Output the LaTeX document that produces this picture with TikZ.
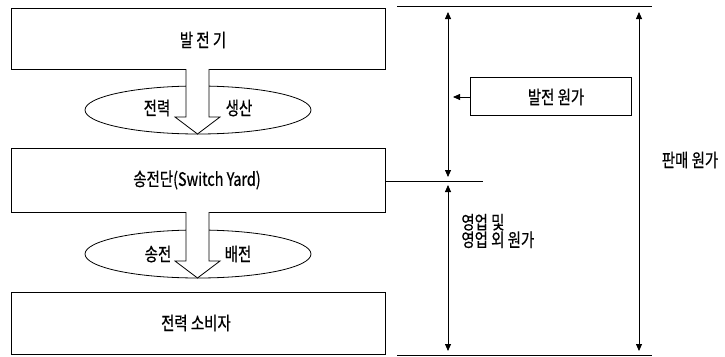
\documentclass[tikz,border=0pt]{standalone}
\usepackage{fontspec}
\setmainfont{Noto Sans CJK KR}[FakeStretch=0.78,FakeBold=0.6]
\usetikzlibrary{shapes.geometric,arrows.meta}
\begin{document}
\begin{tikzpicture}[x=1pt,y=-1pt,
  line width=0.8pt,
  box/.style={draw, rectangle, inner sep=0pt},
  oval/.style={draw, ellipse, minimum width=226pt, minimum height=48pt, inner sep=0pt},
  lbl/.style={font=\fontsize{18.5}{21}\selectfont, inner sep=0pt},
  dim/.style={{Triangle[length=7pt,width=6pt]}-{Triangle[length=7pt,width=6pt]}},
  ptr/.style={-{Triangle[length=7pt,width=6pt]}},
  blockarrow/.style={fill=white}
]
\useasboundingbox (0,0) rectangle (725,356);

% left column boxes
\node[box, minimum width=374pt, minimum height=61pt] (gen) at (198,38.5) {};
\node[lbl] (gent) at (203,40) {발 전 기};
\node[box, minimum width=374pt, minimum height=64pt] (sy) at (198,180) {};
\node[lbl] (syt) at (197,180) {송전단(Switch Yard)};
\node[box, minimum width=374pt, minimum height=62pt] (con) at (198,323) {};
\node[lbl] (cont) at (196,323) {전력 소비자};

% ellipses
\node[oval] (e1) at (198,110) {};
\node[oval] (e2) at (198,254) {};

% block arrows
\foreach \t/\b in {69/0,212/144}{
  \fill[white] (186,\t) -- (186,117+\b) -- (175,117+\b) -- (197.5,134+\b) -- (220,117+\b) -- (209,117+\b) -- (209,\t) -- cycle;
  \draw (186,\t) -- (186,117+\b) -- (175,117+\b) -- (197.5,134+\b) -- (220,117+\b) -- (209,117+\b) -- (209,\t);
}

\node[lbl] (e1a) at (157,108) {전력};
\node[lbl] (e1b) at (239,108) {생산};
\node[lbl] (e2a) at (158,254) {송전};
\node[lbl] (e2b) at (238,254) {배전};

% right side
\coordinate (topL) at (397,6);
\coordinate (topR) at (652,6);
\coordinate (botL) at (397,355);
\coordinate (botR) at (652,355);
\coordinate (midL) at (sy.east |- 0,181);
\coordinate (midR) at (483,181);
\draw (topL) -- (topR);
\draw (botL) -- (botR);
\draw (midL) -- (midR);

\coordinate (a1t) at (448,12);
\coordinate (a1b) at (448,177);
\coordinate (a2t) at (448,185);
\coordinate (a2b) at (448,351);
\coordinate (a3t) at (639,12);
\coordinate (a3b) at (639,351);
\draw[dim] (a1t) -- (a1b);
\draw[dim] (a2t) -- (a2b);
\draw[dim] (a3t) -- (a3b);

\node[box, minimum width=161pt, minimum height=38pt] (gc) at (550.5,96) {};
\node[lbl] (gct) at (556,97) {발전 원가};
\coordinate (gcp) at (453,97);
\draw[ptr] (gc.west |- 0,97) -- (gcp);

\node[lbl] (sale) at (690,160) {판매 원가};
\node[lbl, align=left, anchor=west, font=\fontsize{18.5}{17.5}\selectfont] (opc) at (461,231) {영업 및\\영업 외 원가};
\end{tikzpicture}
\end{document}
